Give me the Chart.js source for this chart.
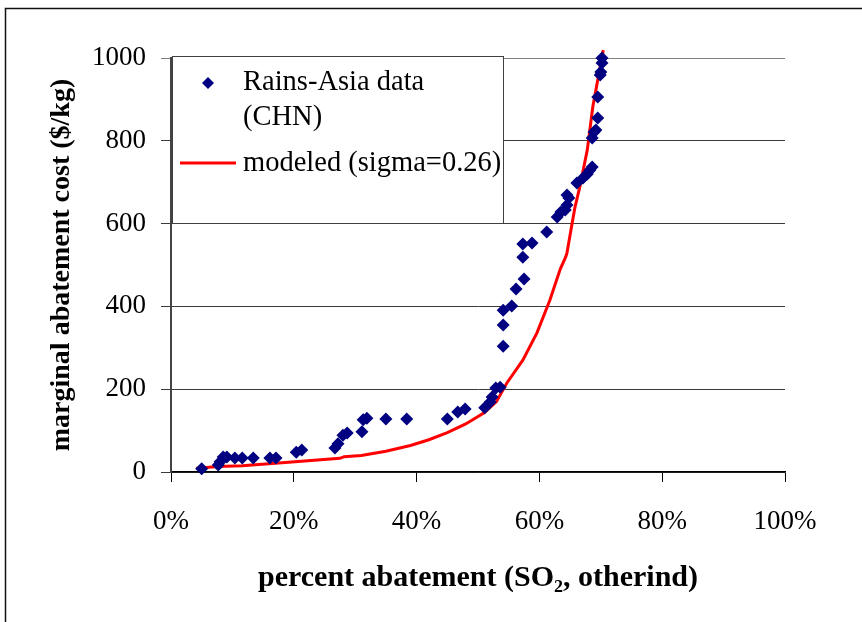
<!DOCTYPE html>
<html>
<head>
<meta charset="utf-8">
<title>Marginal abatement cost – SO2, otherind (CHN)</title>
<script src="https://cdn.jsdelivr.net/npm/chart.js@4.4.1/dist/chart.umd.min.js"></script>
<style>
  html, body { margin: 0; padding: 0; background: #ffffff; }
  #wrap { position: relative; width: 862px; height: 622px; }
  canvas { display: block; }
</style>
</head>
<body>
<div id="wrap"><canvas id="chart" width="862" height="622"></canvas></div>
<script>
// Rains-Asia data points (CHN): percent abatement and marginal cost ($/kg)
const dataPct = [5.0, 7.7, 8.0, 8.5, 9.1, 10.4, 11.6, 13.4, 16.1, 17.1, 20.4, 21.3,
  26.7, 27.2, 28.0, 28.7, 31.1, 31.3, 31.9, 35.0, 38.4, 45.0, 46.7, 47.9, 51.1, 52.0,
  52.3, 52.9, 53.6, 54.1, 54.1, 54.1, 55.5, 56.2, 57.5, 57.3, 57.3, 58.8, 61.2, 62.9,
  63.5, 64.2, 64.5, 64.5, 64.8, 66.1, 67.1, 67.8, 68.2, 68.6, 68.6, 68.9, 69.2, 69.5,
  69.5, 69.9, 70.0, 70.2, 70.2];
const dataCost = [8, 17, 25, 36, 36, 34, 34, 34, 34, 34, 48, 53,
  58, 68, 89, 94, 97, 126, 130, 128, 128, 128, 145, 152, 155, 169,
  181, 203, 205, 304, 355, 391, 401, 442, 466, 519, 551, 553, 580, 616,
  628, 633, 645, 669, 662, 698, 710, 720, 729, 737, 807, 821, 826, 855,
  906, 959, 966, 988, 1000];

// Modeled curve (sigma = 0.26)
const modelPct = [4.1, 7.7, 11.6, 17.0, 20.2, 27.5, 28.2, 31.0, 35.0, 39.0, 42.0, 45.0,
  48.0, 51.0, 53.0, 54.7, 57.3, 59.6, 61.7, 63.4, 64.3, 64.5, 65.2, 65.8, 66.6, 67.8,
  68.7, 69.5, 70.4];
const modelCost = [9, 13, 15, 21, 25, 33, 37, 40, 50, 64, 78, 95,
  116, 143, 170, 215, 270, 336, 415, 490, 520, 530, 590, 640, 690, 778,
  882, 947, 1019];

// Axis ticks
const xTickValues = [0, 20, 40, 60, 80, 100];
const yTickValues = [0, 200, 400, 600, 800, 1000];

// Legend text
const seriesNames = ['Rains-Asia data (CHN)', 'modeled (sigma=0.26)'];
const legendLines = [['Rains-Asia data', '(CHN)'], ['modeled (sigma=0.26)']];

const SERIF = "'Liberation Serif', 'Times New Roman', 'DejaVu Serif', serif";
const NAVY = '#000080';
const RED = '#ff0000';

const scatterPoints = dataPct.map((x, i) => ({ x: x, y: dataCost[i] }));
const modelPoints = modelPct.map((x, i) => ({ x: x, y: modelCost[i] }));

// White page with the outer frame (top and left edges)
const framePlugin = {
  id: 'frame',
  beforeDraw(chart) {
    const ctx = chart.ctx;
    ctx.save();
    ctx.fillStyle = '#ffffff';
    ctx.fillRect(0, 0, chart.width, chart.height);
    ctx.strokeStyle = '#111111';
    ctx.lineWidth = 1.5;
    ctx.beginPath();
    ctx.moveTo(5.5, chart.height);
    ctx.lineTo(5.5, 8.5);
    ctx.lineTo(chart.width, 8.5);
    ctx.stroke();
    ctx.restore();
  }
};

// Boxed legend in the upper-left of the plot
const boxLegendPlugin = {
  id: 'boxLegend',
  afterDraw(chart) {
    const ctx = chart.ctx;
    const area = chart.chartArea;
    const bx = area.left + 1, by = area.top - 2, bw = 331, bh = 167;
    ctx.save();
    ctx.fillStyle = '#ffffff';
    ctx.fillRect(bx, by, bw, bh);
    ctx.strokeStyle = '#404040';
    ctx.lineWidth = 1;
    ctx.strokeRect(bx + 0.5, by + 0.5, bw, bh);

    ctx.font = '28.5px ' + SERIF;
    ctx.fillStyle = '#000000';
    ctx.textBaseline = 'middle';
    ctx.textAlign = 'left';
    const textX = bx + 71;

    // marker sample
    const mx = bx + 36, my = by + 27, r = 6;
    ctx.fillStyle = NAVY;
    ctx.beginPath();
    ctx.moveTo(mx, my - r);
    ctx.lineTo(mx + r, my);
    ctx.lineTo(mx, my + r);
    ctx.lineTo(mx - r, my);
    ctx.closePath();
    ctx.fill();
    ctx.fillStyle = '#000000';
    ctx.fillText(legendLines[0][0], textX, by + 27);
    ctx.fillText(legendLines[0][1], textX, by + 62);

    // line sample
    ctx.strokeStyle = RED;
    ctx.lineWidth = 3;
    ctx.beginPath();
    ctx.moveTo(bx + 8, by + 107);
    ctx.lineTo(bx + 64, by + 107);
    ctx.stroke();
    ctx.fillText(legendLines[1][0], textX, by + 108);
    ctx.restore();
  }
};

new Chart(document.getElementById('chart'), {
  type: 'scatter',
  data: {
    datasets: [
      {
        label: seriesNames[0],
        data: scatterPoints,
        pointStyle: 'rectRot',
        pointRadius: 6.5,
        pointHoverRadius: 6.5,
        backgroundColor: NAVY,
        borderColor: NAVY,
        borderWidth: 0,
        showLine: false,
        clip: 10,
        order: 1
      },
      {
        type: 'line',
        label: seriesNames[1],
        data: modelPoints,
        borderColor: RED,
        borderWidth: 3,
        pointRadius: 0,
        tension: 0,
        fill: false,
        clip: { left: 5, top: 12, right: 5, bottom: 5 },
        order: 2
      }
    ]
  },
  options: {
    responsive: false,
    animation: false,
    events: [],
    layout: { padding: { left: 0, top: 58, right: 77, bottom: 0 } },
    plugins: {
      legend: { display: false },
      tooltip: { enabled: false },
      title: { display: false }
    },
    scales: {
      x: {
        type: 'linear',
        min: 0,
        max: 100,
        afterBuildTicks(scale) { scale.ticks = xTickValues.map(v => ({ value: v })); },
        afterFit(scale) { scale.height = 150; },
        ticks: {
          callback: v => v + '%',
          color: '#000000',
          font: { family: SERIF, size: 27 },
          padding: 24,
          maxRotation: 0
        },
        grid: {
          drawOnChartArea: false,
          drawTicks: true,
          tickLength: 10,
          color: '#000000',
          lineWidth: 1
        },
        border: { color: '#000000', width: 1.5 },
        title: {
          display: true,
          text: 'percent abatement (SO₂, otherind)',
          color: '#000000',
          font: { family: SERIF, size: 30, weight: 'bold' },
          padding: { top: 0, bottom: 26 }
        }
      },
      y: {
        type: 'linear',
        min: 0,
        max: 1000,
        afterBuildTicks(scale) { scale.ticks = yTickValues.map(v => ({ value: v })); },
        afterFit(scale) { scale.width = 171; },
        ticks: {
          callback: v => String(v),
          color: '#000000',
          font: { family: SERIF, size: 27 },
          padding: 15
        },
        grid: {
          drawOnChartArea: true,
          drawTicks: true,
          tickLength: 10,
          color: ctx => (ctx.tick && ctx.tick.value === 1000) ? '#808080' : '#3a3a3a',
          lineWidth: 1
        },
        border: { color: '#444444', width: 2 },
        title: {
          display: true,
          text: 'marginal abatement cost ($/kg)',
          color: '#000000',
          font: { family: SERIF, size: 28, weight: 'bold' },
          padding: { top: 45, bottom: 0 }
        }
      }
    }
  },
  plugins: [framePlugin, boxLegendPlugin]
});
</script>
</body>
</html>
